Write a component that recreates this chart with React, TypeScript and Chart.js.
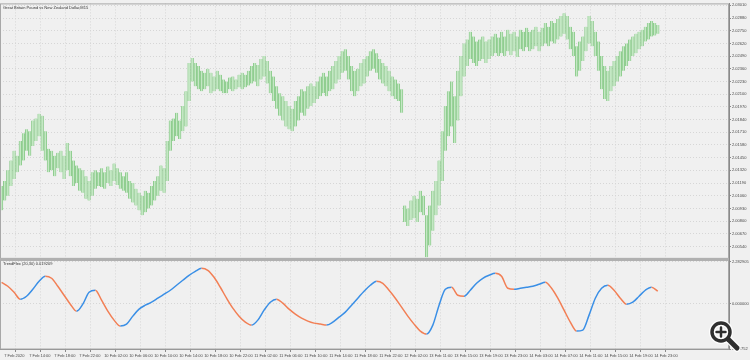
import React, { useEffect, useRef } from 'react';
import { Chart, registerables } from 'chart.js';

Chart.register(...registerables);

const chartTitle = 'Great Britain Pound vs New Zealand Dollar,M15';
const indicatorTitle = 'TrendFlex (20,30) 0.019209';

// M15 bars (each entry = one plotted bar), high / low prices
const highs = [
  2.0116, 2.0121, 2.0132, 2.0142, 2.0152, 2.0147, 2.0162, 2.0170, 2.0174, 2.0172,
  2.0183, 2.0185, 2.0190, 2.0188, 2.0172, 2.0154, 2.0152, 2.0147, 2.0150, 2.0152,
  2.0147, 2.0160, 2.0152, 2.0142, 2.0137, 2.0134, 2.0132, 2.0126, 2.0121, 2.0130,
  2.0132, 2.0130, 2.0134, 2.0130, 2.0136, 2.0132, 2.0139, 2.0134, 2.0130, 2.0126,
  2.0130, 2.0121, 2.0119, 2.0113, 2.0109, 2.0106, 2.0111, 2.0109, 2.0116, 2.0121,
  2.0126, 2.0137, 2.0134, 2.0162, 2.0183, 2.0185, 2.0191, 2.0183, 2.0198, 2.0213,
  2.0242, 2.0247, 2.0242, 2.0239, 2.0234, 2.0232, 2.0236, 2.0232, 2.0228, 2.0234,
  2.0230, 2.0225, 2.0223, 2.0227, 2.0228, 2.0225, 2.0230, 2.0232, 2.0230, 2.0234,
  2.0239, 2.0242, 2.0240, 2.0246, 2.0249, 2.0244, 2.0234, 2.0228, 2.0218, 2.0211,
  2.0208, 2.0203, 2.0198, 2.0195, 2.0203, 2.0208, 2.0215, 2.0213, 2.0218, 2.0221,
  2.0218, 2.0223, 2.0228, 2.0232, 2.0228, 2.0234, 2.0239, 2.0244, 2.0249, 2.0254,
  2.0256, 2.0249, 2.0239, 2.0234, 2.0236, 2.0242, 2.0246, 2.0249, 2.0254, 2.0256,
  2.0252, 2.0246, 2.0242, 2.0239, 2.0234, 2.0228, 2.0225, 2.0221, 2.0215, 2.0096,
  2.0093, 2.0101, 2.0106, 2.0103, 2.0111, 2.0106, 2.0086, 2.0096, 2.0111, 2.0121,
  2.0142, 2.0172, 2.0198, 2.0213, 2.0223, 2.0208, 2.0234, 2.0249, 2.0262, 2.0266,
  2.0274, 2.0269, 2.0264, 2.0266, 2.0269, 2.0264, 2.0266, 2.0269, 2.0272, 2.0268,
  2.0274, 2.0269, 2.0276, 2.0272, 2.0274, 2.0269, 2.0276, 2.0274, 2.0278, 2.0274,
  2.0276, 2.0279, 2.0274, 2.0278, 2.0283, 2.0279, 2.0285, 2.0283, 2.0287, 2.0290,
  2.0293, 2.0290, 2.0279, 2.0274, 2.0259, 2.0264, 2.0269, 2.0279, 2.0290, 2.0285,
  2.0274, 2.0264, 2.0249, 2.0239, 2.0234, 2.0239, 2.0244, 2.0249, 2.0254, 2.0259,
  2.0262, 2.0266, 2.0269, 2.0272, 2.0274, 2.0276, 2.0279, 2.0283, 2.0285, 2.0283, 2.0281,
];

const lows = [
  2.0091, 2.0101, 2.0106, 2.0116, 2.0123, 2.0130, 2.0137, 2.0142, 2.0152, 2.0147,
  2.0157, 2.0162, 2.0167, 2.0152, 2.0142, 2.0130, 2.0132, 2.0126, 2.0134, 2.0130,
  2.0123, 2.0132, 2.0126, 2.0116, 2.0119, 2.0111, 2.0109, 2.0103, 2.0101, 2.0106,
  2.0113, 2.0116, 2.0115, 2.0113, 2.0119, 2.0116, 2.0121, 2.0117, 2.0113, 2.0111,
  2.0109, 2.0103, 2.0099, 2.0096, 2.0091, 2.0086, 2.0089, 2.0093, 2.0096, 2.0101,
  2.0106, 2.0111, 2.0109, 2.0121, 2.0152, 2.0162, 2.0167, 2.0164, 2.0172, 2.0177,
  2.0203, 2.0223, 2.0218, 2.0215, 2.0213, 2.0215, 2.0218, 2.0211, 2.0213, 2.0215,
  2.0213, 2.0211, 2.0211, 2.0215, 2.0213, 2.0215, 2.0217, 2.0215, 2.0217, 2.0219,
  2.0221, 2.0223, 2.0218, 2.0225, 2.0228, 2.0221, 2.0211, 2.0203, 2.0195, 2.0188,
  2.0183, 2.0177, 2.0174, 2.0172, 2.0177, 2.0183, 2.0191, 2.0188, 2.0195, 2.0198,
  2.0201, 2.0205, 2.0208, 2.0211, 2.0208, 2.0213, 2.0215, 2.0221, 2.0225, 2.0232,
  2.0234, 2.0225, 2.0213, 2.0208, 2.0213, 2.0218, 2.0221, 2.0228, 2.0234, 2.0236,
  2.0232, 2.0225, 2.0221, 2.0218, 2.0213, 2.0208, 2.0205, 2.0203, 2.0191, 2.0079,
  2.0075, 2.0081, 2.0083, 2.0079, 2.0089, 2.0086, 2.0043, 2.0055, 2.0070, 2.0086,
  2.0096, 2.0121, 2.0152, 2.0167, 2.0177, 2.0160, 2.0183, 2.0208, 2.0228, 2.0239,
  2.0246, 2.0242, 2.0239, 2.0244, 2.0246, 2.0242, 2.0246, 2.0249, 2.0252, 2.0249,
  2.0252, 2.0249, 2.0254, 2.0250, 2.0254, 2.0248, 2.0256, 2.0254, 2.0258, 2.0254,
  2.0256, 2.0259, 2.0254, 2.0259, 2.0262, 2.0259, 2.0264, 2.0262, 2.0266, 2.0269,
  2.0272, 2.0266, 2.0256, 2.0249, 2.0228, 2.0234, 2.0244, 2.0254, 2.0262, 2.0259,
  2.0249, 2.0234, 2.0215, 2.0205, 2.0203, 2.0213, 2.0218, 2.0223, 2.0228, 2.0234,
  2.0239, 2.0244, 2.0249, 2.0252, 2.0256, 2.0259, 2.0264, 2.0266, 2.0269, 2.0270, 2.0272,
];

// TrendFlex indicator, one value every 2 plotted bars
const trendFlex = [
  1.168, 0.949, 0.622, 0.240, 0.404, 0.786, 1.222, 1.495, 1.386, 0.949,
  0.458, -0.033, -0.415, -0.033, 0.622, 0.731, 0.186, -0.415, -0.906, -1.233,
  -1.124, -0.687, -0.306, -0.087, 0.076, 0.295, 0.513, 0.731, 1.004, 1.277,
  1.550, 1.768, 1.931, 1.822, 1.440, 0.895, 0.295, -0.251, -0.687, -1.015,
  -1.178, -0.906, -0.360, 0.076, 0.240, 0.022, -0.306, -0.578, -0.797, -0.960,
  -1.069, -1.124, -1.178, -1.015, -0.742, -0.469, -0.087, 0.295, 0.677, 1.004,
  1.222, 1.113, 0.731, 0.295, -0.196, -0.687, -1.124, -1.506, -1.670, -1.178,
  -0.087, 0.786, 0.895, 0.458, 0.404, 0.731, 1.113, 1.386, 1.550, 1.659,
  1.495, 0.840, 0.786, 0.840, 0.895, 0.949, 1.058, 1.168, 0.840, 0.295,
  -0.360, -1.015, -1.506, -1.451, -0.633, 0.295, 0.840, 1.004, 0.731, 0.295,
  -0.033, 0.076, 0.404, 0.731, 0.895, 0.677,
];

const timeLabels = [
  '7 Feb 2020', '7 Feb 14:00', '7 Feb 18:00', '7 Feb 22:00',
  '10 Feb 02:00', '10 Feb 06:00', '10 Feb 10:00', '10 Feb 14:00', '10 Feb 18:00', '10 Feb 22:00',
  '11 Feb 02:00', '11 Feb 06:00', '11 Feb 10:00', '11 Feb 14:00', '11 Feb 18:00', '11 Feb 22:00',
  '12 Feb 02:00', '13 Feb 11:00', '13 Feb 15:00', '13 Feb 19:00', '13 Feb 23:00',
  '14 Feb 03:00', '14 Feb 07:00', '14 Feb 11:00', '14 Feb 15:00', '14 Feb 19:00', '14 Feb 23:00',
];

const priceTicks = [
  2.0301, 2.0288, 2.0275, 2.0262, 2.0249, 2.0236, 2.0223, 2.021, 2.0197, 2.0184,
  2.0171, 2.0158, 2.0145, 2.0132, 2.0119, 2.0106, 2.0093, 2.008, 2.0067, 2.0054,
];

const indicatorTicks = [2.282905, 0, -2.48752];
const indicatorTickLabels = ['2.282905', '0.000000', '-2.48752'];

const FONT = '"Liberation Sans", Arial, sans-serif';
const GRID_DASH = [1, 2];

const decorPlugin = {
  id: 'mtDecor',
  beforeDraw(chart: any) {
    const { ctx, width, height } = chart;
    ctx.save();
    ctx.fillStyle = '#f0f0f0';
    ctx.fillRect(0, 0, width, height);
    ctx.restore();
  },
  afterDraw(chart: any) {
    const { ctx, chartArea } = chart;
    const ys = chart.scales.y;
    const y2 = chart.scales.y2;
    const L = chartArea.left;
    const R = chartArea.right;
    ctx.save();
    ctx.strokeStyle = '#a8a8a8';
    ctx.lineWidth = 1;
    ctx.strokeRect(L + 0.5, ys.top + 0.5, R - L - 1, ys.bottom - ys.top - 1);
    ctx.strokeRect(L + 0.5, y2.top + 1.5, R - L - 1, y2.bottom - y2.top - 1.5);
    ctx.fillStyle = '#b0b0b0';
    ctx.fillRect(L, ys.bottom - 0.5, R - L, 2);
    ctx.fillStyle = '#333333';
    ctx.font = '4px ' + FONT;
    ctx.textBaseline = 'top';
    ctx.textAlign = 'left';
    ctx.fillText(chartTitle, L + 3, ys.top + 2.5);
    ctx.fillText(indicatorTitle, L + 3, y2.top + 3);
    const cx = 721, cy = 332;
    const drawGlass = (color: string, extra: number) => {
      ctx.strokeStyle = color;
      ctx.lineCap = 'round';
      ctx.lineWidth = 3.5 + extra;
      ctx.beginPath();
      ctx.arc(cx, cy, 9, 0, Math.PI * 2);
      ctx.stroke();
      ctx.lineWidth = 5 + extra;
      ctx.beginPath();
      ctx.moveTo(cx + 7.5, cy + 7.5);
      ctx.lineTo(cx + 16, cy + 16);
      ctx.stroke();
      ctx.lineWidth = 2.5 + extra;
      ctx.beginPath();
      ctx.moveTo(cx - 4.5, cy);
      ctx.lineTo(cx + 4.5, cy);
      ctx.moveTo(cx, cy - 4.5);
      ctx.lineTo(cx, cy + 4.5);
      ctx.stroke();
    };
    drawGlass('rgba(255,255,255,0.9)', 2.5);
    drawGlass('#2f2f2f', 0);
    ctx.restore();
  },
};

export default function App() {
  const canvasRef = useRef<HTMLCanvasElement | null>(null);

  useEffect(() => {
    const canvas = canvasRef.current;
    if (!canvas) return;

    const barData = highs.map((h, i) => ({ x: i, y: [lows[i], h] }));
    const tfData = trendFlex.map((v, k) => ({ x: k * 2, y: v }));
    const xTickValues = timeLabels.map((_, k) => k * 8 + 0.5);

    const chart = new Chart(canvas, {
      type: 'bar',
      data: {
        datasets: [
          {
            type: 'bar',
            label: 'GBPNZD',
            data: barData as any,
            yAxisID: 'y',
            backgroundColor: '#c4e7c4',
            borderColor: '#74c074',
            borderWidth: { left: 0.7, right: 0.7, top: 0, bottom: 0 },
            borderSkipped: false,
            barThickness: 2.6,
            grouped: false,
          } as any,
          {
            type: 'line',
            label: 'TrendFlex',
            data: tfData as any,
            yAxisID: 'y2',
            borderWidth: 1.5,
            pointRadius: 0,
            cubicInterpolationMode: 'monotone',
            borderColor: '#3a8fe6',
            segment: {
              borderColor: (c: any) => (c.p1.parsed.y >= c.p0.parsed.y ? '#3a8fe6' : '#f27f55'),
            },
          } as any,
        ],
      },
      options: {
        animation: false,
        responsive: false,
        layout: { padding: { top: 2, left: 0, right: 0, bottom: 0 } },
        plugins: { legend: { display: false }, tooltip: { enabled: false } },
        scales: {
          x: {
            type: 'linear',
            min: -0.5,
            max: 232.78,
            offset: false,
            afterBuildTicks: (scale: any) => {
              scale.ticks = xTickValues.map((v) => ({ value: v }));
            },
            afterFit: (scale: any) => {
              scale.height = 11;
            },
            ticks: {
              autoSkip: false,
              maxRotation: 0,
              minRotation: 0,
              align: 'start',
              labelOffset: 1,
              padding: 1,
              color: '#4a4a4a',
              font: { size: 4, family: FONT },
              callback: (_v: any, idx: number) => timeLabels[idx],
            },
            grid: { color: '#d6d6d6', tickColor: '#8a8a8a', tickLength: 3, tickBorderDash: [] },
            border: { color: '#8a8a8a', dash: GRID_DASH },
          },
          y: {
            type: 'linear',
            position: 'right',
            stack: 'panes',
            stackWeight: 256.5,
            min: 2.00413,
            max: 2.0303,
            afterBuildTicks: (scale: any) => {
              scale.ticks = priceTicks.map((v) => ({ value: v }));
            },
            afterFit: (scale: any) => {
              scale.width = 21;
            },
            ticks: {
              autoSkip: false,
              padding: 1,
              color: '#4a4a4a',
              font: { size: 4, family: FONT },
              callback: (v: any) => Number(v).toFixed(5),
            },
            grid: { color: '#d6d6d6', tickColor: '#8a8a8a', tickLength: 2, tickBorderDash: [] },
            border: { color: '#8a8a8a', dash: GRID_DASH },
          },
          y2: {
            type: 'linear',
            position: 'right',
            stack: 'panes',
            stackWeight: 90.5,
            min: -2.48752,
            max: 2.45,
            afterBuildTicks: (scale: any) => {
              scale.ticks = indicatorTicks.map((v) => ({ value: v }));
            },
            afterFit: (scale: any) => {
              scale.width = 21;
            },
            ticks: {
              autoSkip: false,
              padding: 1,
              color: '#4a4a4a',
              font: { size: 4, family: FONT },
              callback: (_v: any, idx: number) => indicatorTickLabels[idx],
            },
            grid: { color: '#d6d6d6', tickColor: '#8a8a8a', tickLength: 2, tickBorderDash: [] },
            border: { color: '#8a8a8a', dash: GRID_DASH },
          },
        },
      } as any,
      plugins: [decorPlugin],
    });

    return () => {
      chart.destroy();
    };
  }, []);

  return (
    <div style={{ position: 'fixed', left: 0, top: 0, width: 750, height: 360, background: '#f0f0f0' }}>
      <canvas ref={canvasRef} width={750} height={360} style={{ display: 'block', width: 750, height: 360 }} />
    </div>
  );
}
